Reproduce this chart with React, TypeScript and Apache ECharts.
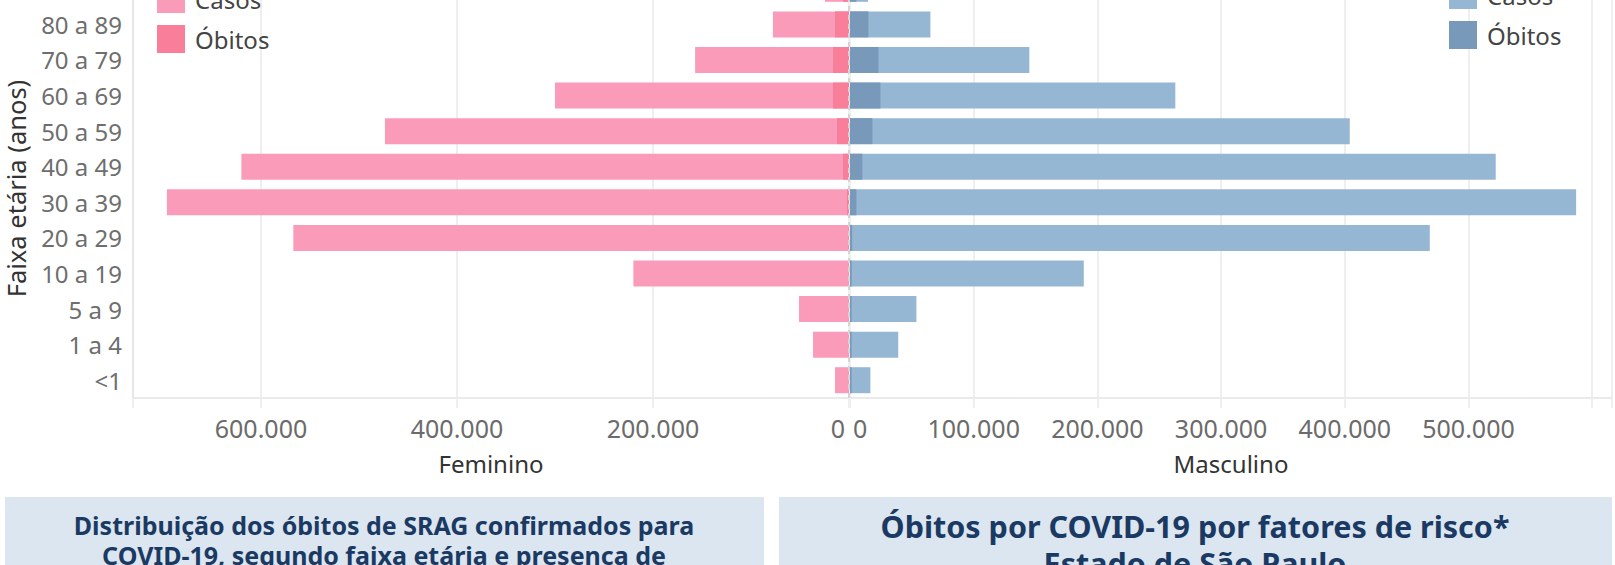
import React, { useEffect, useRef } from "react";
import * as echarts from "echarts";

// Age groups, bottom to top
const categories = ["<1", "1 a 4", "5 a 9", "10 a 19", "20 a 29", "30 a 39", "40 a 49", "50 a 59", "60 a 69", "70 a 79", "80 a 89", "≥90"];
// Feminino
const femCasos = [14300, 36700, 51000, 220000, 567000, 696000, 620000, 473500, 300000, 157000, 77600, 24500];
const femObitos = [200, 200, 200, 300, 600, 2000, 6100, 12200, 16300, 16300, 14300, 6000];
// Masculino
const mascCasos = [16500, 39000, 53700, 189000, 468700, 587000, 522000, 404000, 263000, 145000, 65000, 14600];
const mascObitos = [1300, 1300, 1300, 1400, 1800, 5200, 10000, 18100, 24600, 23000, 14900, 5200];

const femAxisMax = 730600;
const mascAxisMax = 616000;
const femTickStep = 200000;
const mascTickStep = 100000;

const legendNames = ["Casos", "Óbitos"];
const headerLeft = ["Distribuição dos óbitos de SRAG confirmados para", "COVID-19, segundo faixa etária e presença de"];
const headerRight = ["Óbitos por COVID-19 por fatores de risco*", "Estado de São Paulo"];

const PINK_CASOS = "#FA9BB9";
const PINK_OBITOS = "#F87E9A";
const BLUE_CASOS = "#96B7D4";
const BLUE_OBITOS = "#7899BA";
const GRID_COLOR = "#efefef";
const BORDER_COLOR = "#e4e4e4";
const FONT = "'Noto Sans', sans-serif";
const HEAD_FONT = "'Noto Sans', sans-serif";
const NAVY = "#1b3a63";
const BOX = "#dce6f1";

const fmt = (v: number) => String(Math.round(v)).replace(/\B(?=(\d{3})+(?!\d))/g, ".");

const OFF = 40; // chart is shifted up by this many px

export default function App() {
  const ref = useRef<HTMLDivElement>(null);
  useEffect(() => {
    if (!ref.current) return;
    const chart = echarts.init(ref.current, undefined, { renderer: "svg" });
    const xCommon = (max: number, step: number) => ({
      type: "value" as const,
      min: 0,
      max,
      interval: step,
      axisLine: { show: true, lineStyle: { color: BORDER_COLOR, width: 1.5 } },
      axisTick: { show: true, length: 10, lineStyle: { color: GRID_COLOR, width: 2 } },
      splitLine: { show: true, lineStyle: { color: GRID_COLOR, width: 2 } },
      nameLocation: "middle" as const,
      nameGap: 53,
      nameTextStyle: { fontSize: 24, color: "#333", fontFamily: FONT },
    });
    const option: any = {
      animation: false,
      textStyle: { fontFamily: FONT },
      grid: [
        { left: 133, top: 11, width: 716, height: 427 },
        { left: 850, top: 11, width: 762, height: 427 },
      ],
      xAxis: [
        {
          ...xCommon(femAxisMax, femTickStep),
          gridIndex: 0,
          inverse: true,
          name: "Feminino",
          axisLabel: {
            fontSize: 25,
            color: "#6b6b6b",
            margin: 17,
            fontFamily: FONT,
            alignMinLabel: "right",
            formatter: (v: number) => (v === 0 ? "{z|0}" : v % femTickStep === 0 ? fmt(v) : ""),
            rich: { z: { fontSize: 25, color: "#6b6b6b", padding: [0, 4, 0, 0] } },
          },
        },
        {
          ...xCommon(mascAxisMax, mascTickStep),
          gridIndex: 1,
          name: "Masculino",
          axisLabel: {
            fontSize: 25,
            color: "#6b6b6b",
            margin: 17,
            fontFamily: FONT,
            alignMinLabel: "left",
            formatter: (v: number) => (v === 0 ? "{z|0}" : v % mascTickStep === 0 && v < 600000 ? fmt(v) : ""),
            rich: { z: { fontSize: 25, color: "#6b6b6b", padding: [0, 0, 0, 3] } },
          },
        },
      ],
      yAxis: [
        {
          gridIndex: 0,
          type: "category",
          data: categories,
          position: "left",
          axisLine: { show: true, onZero: false, lineStyle: { color: BORDER_COLOR, width: 1.5 } },
          axisTick: { show: false },
          axisLabel: { fontSize: 24, color: "#6e6e6e", margin: 11, fontFamily: FONT },
          name: "Faixa etária (anos)",
          nameLocation: "middle",
          nameRotate: 90,
          nameGap: 104,
          nameTextStyle: { fontSize: 25.5, color: "#333", fontFamily: FONT, padding: [0, 8, 0, 0] },
        },
        {
          gridIndex: 1,
          type: "category",
          data: categories,
          axisLine: { show: false },
          axisTick: { show: false },
          axisLabel: { show: false },
        },
      ],
      legend: [
        {
          left: 157,
          top: 25,
          orient: "vertical",
          padding: 0,
          itemWidth: 28,
          itemHeight: 28,
          itemGap: 12,
          icon: "rect",
          selectedMode: false,
          data: [
            { name: legendNames[0], itemStyle: { color: PINK_CASOS } },
            { name: legendNames[1], itemStyle: { color: PINK_OBITOS } },
          ],
          textStyle: { fontSize: 24, color: "#444", fontFamily: FONT, padding: [4, 0, 0, 5] },
        },
        {
          left: 1449,
          top: 21,
          orient: "vertical",
          padding: 0,
          itemWidth: 28,
          itemHeight: 28,
          itemGap: 12,
          icon: "rect",
          selectedMode: false,
          data: [
            { name: legendNames[0], itemStyle: { color: BLUE_CASOS } },
            { name: legendNames[1], itemStyle: { color: BLUE_OBITOS } },
          ],
          textStyle: { fontSize: 24, color: "#444", fontFamily: FONT, padding: [4, 0, 0, 5] },
        },
      ],
      series: [
        {
          name: legendNames[0],
          type: "bar",
          xAxisIndex: 0,
          yAxisIndex: 0,
          data: femCasos,
          barWidth: 26,
          barGap: "-100%",
          itemStyle: { color: PINK_CASOS },
        },
        {
          name: legendNames[1],
          type: "bar",
          xAxisIndex: 0,
          yAxisIndex: 0,
          data: femObitos,
          barWidth: 26,
          barGap: "-100%",
          itemStyle: { color: PINK_OBITOS },
          markLine: {
            silent: true,
            symbol: ["none", "none"],
            label: { show: false },
            lineStyle: { type: [5, 4], color: "#d4d4d4", width: 2 },
            data: [{ xAxis: 0 }],
          },
        },
        {
          name: legendNames[0],
          type: "bar",
          xAxisIndex: 1,
          yAxisIndex: 1,
          data: mascCasos,
          barWidth: 26,
          barGap: "-100%",
          itemStyle: { color: BLUE_CASOS },
        },
        {
          name: legendNames[1],
          type: "bar",
          xAxisIndex: 1,
          yAxisIndex: 1,
          data: mascObitos,
          barWidth: 26,
          barGap: "-100%",
          itemStyle: { color: BLUE_OBITOS },
        },
      ],
      graphic: [
        { type: "rect", shape: { x: 5, y: 497 + OFF, width: 759, height: 80 }, style: { fill: BOX }, silent: true },
        { type: "rect", shape: { x: 779, y: 497 + OFF, width: 833, height: 80 }, style: { fill: BOX }, silent: true },
        {
          type: "text", x: 384, y: 540 + OFF,
          style: {
            text: headerLeft.join("\n"), fill: NAVY, font: `bold 25px ${HEAD_FONT}`, lineHeight: 30,
            align: "center", verticalAlign: "middle",
          },
        },
        {
          type: "text", x: 1195, y: 544.5 + OFF,
          style: {
            text: headerRight.join("\n"), fill: NAVY, font: `bold 30.5px ${HEAD_FONT}`, lineHeight: 37,
            align: "center", verticalAlign: "middle",
          },
        },
      ],
    };
    chart.setOption(option);
    return () => chart.dispose();
  }, []);
  return (
    <div
      ref={ref}
      style={{ position: "absolute", left: 0, top: -OFF, width: 1615, height: 565 + OFF, background: "#fff" }}
    />
  );
}
